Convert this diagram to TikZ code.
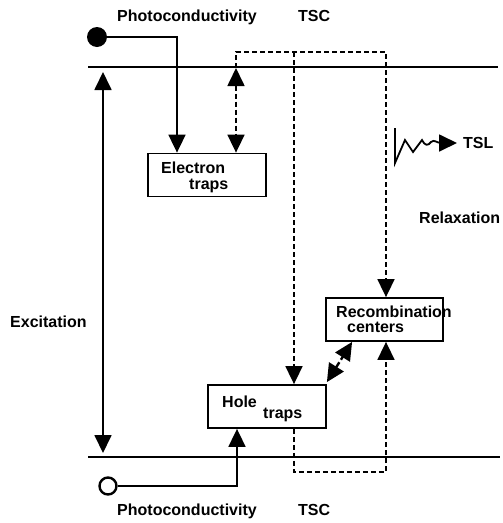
\documentclass[tikz,border=0pt]{standalone}
\usepackage{fontspec}
\setmainfont{Liberation Sans}
\usetikzlibrary{arrows.meta}
\begin{document}
\begin{tikzpicture}[x=1pt,y=-1pt,
  font=\fontsize{16}{19}\selectfont\bfseries,
  ln/.style={line width=1.8pt},
  dsh/.style={line width=1.7pt,dash pattern=on 5pt off 3pt},
  tip/.style={-{Triangle[length=18pt,width=17pt]}},
  tips/.style={{Triangle[length=18pt,width=17pt]}-{Triangle[length=18pt,width=17pt]}},
  boxn/.style={draw,line width=1.8pt,minimum width=118pt,minimum height=43pt,inner sep=0pt},
  lbl/.style={inner sep=0pt,anchor=base west}]
\useasboundingbox (0,0) rectangle (503,523);
% levels
\coordinate (tl1) at (88,67); \coordinate (tl2) at (498,67);
\coordinate (bl1) at (88,457); \coordinate (bl2) at (500,457);
\draw[ln] (tl1) -- (tl2);
\draw[ln] (bl1) -- (bl2);
% boxes
\node[boxn] (eltraps) at (207,175) {};
\node[boxn] (holetraps) at (267,406.5) {};
\node[boxn,minimum width=117pt] (recomb) at (384.5,319.5) {};
% box texts
\node[lbl] (t1) at (161,173) {Electron};
\node[lbl] (t2) at (189,189) {traps};
\node[lbl] (t3) at (222,407) {Hole};
\node[lbl] (t4) at (263,418) {traps};
\node[lbl] (t5) at (336,317) {Recombination};
\node[lbl] (t6) at (347,332) {centers};
% labels
\node[lbl] (p1) at (117,21) {Photoconductivity};
\node[lbl] (s1) at (298,21) {TSC};
\node[lbl] (p2) at (117,515) {Photoconductivity};
\node[lbl] (s2) at (298,515) {TSC};
\node[lbl] (exc) at (10,327) {Excitation};
\node[lbl] (rel) at (419,223) {Relaxation};
\node[lbl] (tsl) at (463,148) {TSL};
% sources
\node[circle,fill,inner sep=0pt,minimum size=20pt] (src1) at (97,37) {};
\node[circle,draw,line width=2.4pt,fill=white,inner sep=0pt,minimum size=17pt] (src2) at (108,486) {};
\coordinate (c1) at (177,37);
\draw[ln,tip] (src1) -- (c1) -- (c1 |- eltraps.north);
\coordinate (c2) at (237,486);
\draw[ln,tip] (src2) -- (c2) -- (c2 |- holetraps.south);
% excitation
\coordinate (ex1) at (103,72); \coordinate (ex2) at (103,453);
\draw[ln,tips] (ex1) -- (ex2);
% TSC dashed paths
\coordinate (d1) at (236,68);
\coordinate (d2) at (236,52);
\coordinate (d3) at (386,52);
\coordinate (d4) at (294,52);
\coordinate (d5) at (294,472);
\coordinate (d6) at (386,472);
\draw[dsh,tips] (d1) -- (d1 |- eltraps.north);
\draw[dsh,tip] (d1) -- (d2) -- (d3) -- (d3 |- recomb.north);
\draw[dsh,tip] (d4) -- (d4 |- holetraps.north);
\draw[dsh,tip] (d5 |- holetraps.south) -- (d5) -- (d6) -- (d6 |- recomb.south);
\draw[line width=2.4pt,dash pattern=on 6pt off 3pt,tips] ([yshift=2pt]holetraps.north east) -- ([xshift=27pt]recomb.south west);
% TSL zigzag
\coordinate (z0) at (395,128);
\coordinate (zend) at (457,143);
\draw[line width=1.8pt,tip,line join=miter] (z0) -- (395,163) -- (405,140) -- (413,152) -- (422,140)
  .. controls (425,146) and (428,146) .. (431,142) .. controls (434,139) and (437,143) .. (441,143) -- (zend);
\end{tikzpicture}
\end{document}
